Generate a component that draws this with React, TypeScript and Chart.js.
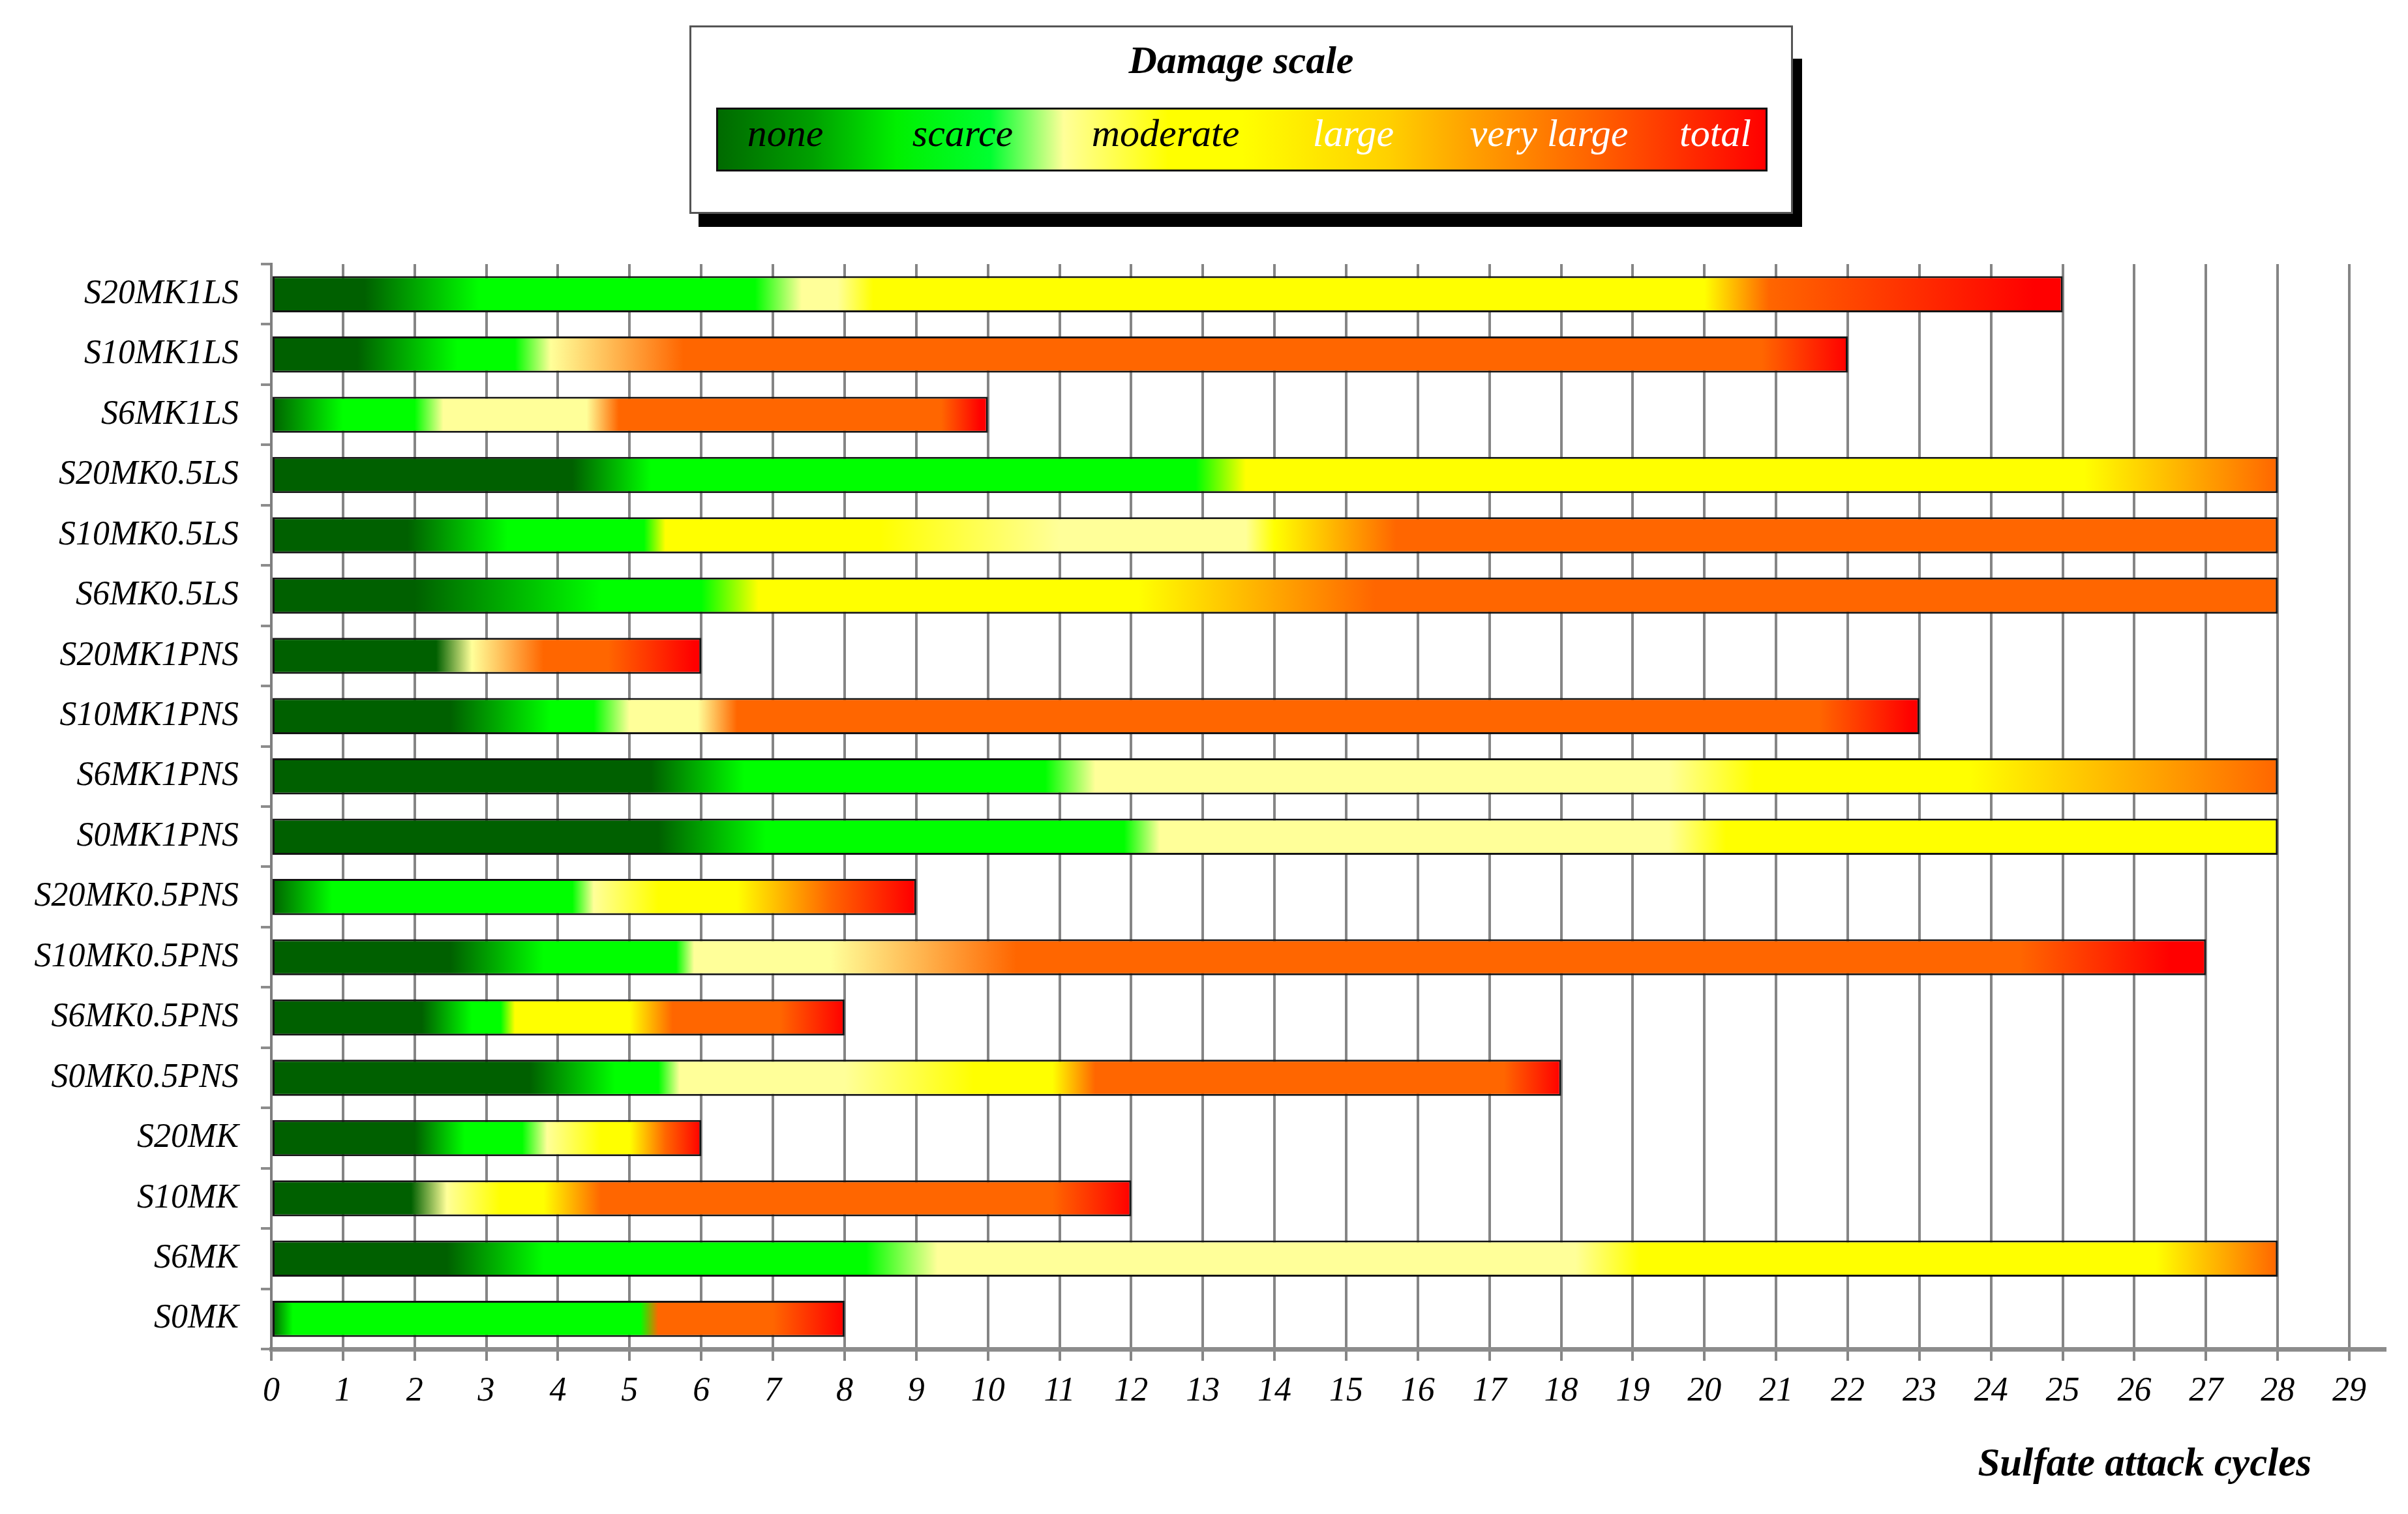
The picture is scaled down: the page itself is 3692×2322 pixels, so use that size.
import { useEffect, useRef } from 'react';
import { Chart, registerables } from 'chart.js';

Chart.register(...registerables);

const samples = [
  'S20MK1LS', 'S10MK1LS', 'S6MK1LS', 'S20MK0.5LS', 'S10MK0.5LS', 'S6MK0.5LS',
  'S20MK1PNS', 'S10MK1PNS', 'S6MK1PNS', 'S0MK1PNS', 'S20MK0.5PNS', 'S10MK0.5PNS',
  'S6MK0.5PNS', 'S0MK0.5PNS', 'S20MK', 'S10MK', 'S6MK', 'S0MK',
];

// last sulfate attack cycle reached by each sample
const endCycles = [25, 22, 10, 28, 28, 28, 6, 23, 28, 28, 9, 27, 8, 18, 6, 12, 28, 8];

const damageLevels = ['none', 'scarce', 'moderate', 'large', 'very large', 'total'];

const cycleTickLabels = [
  '0', '1', '2', '3', '4', '5', '6', '7', '8', '9', '10', '11', '12', '13', '14',
  '15', '16', '17', '18', '19', '20', '21', '22', '23', '24', '25', '26', '27', '28', '29',
];

// [cycle, damage level] points along each bar
const damageStops: [number, string][][] = [
  [[0, 'none'], [1.3, 'none'], [2.9, 'scarce'], [6.75, 'scarce'], [7.4, 'moderate'], [7.9, 'moderate'], [8.4, 'large'], [20, 'large'], [20.9, 'very large'], [24.6, 'total'], [25, 'total']],
  [[0, 'none'], [1.2, 'none'], [2.6, 'scarce'], [3.4, 'scarce'], [3.9, 'moderate'], [5.75, 'very large'], [20.8, 'very large'], [22, 'total']],
  [[0, 'none'], [1.0, 'scarce'], [2.0, 'scarce'], [2.4, 'moderate'], [4.4, 'moderate'], [4.85, 'very large'], [9.35, 'very large'], [9.9, 'total'], [10, 'total']],
  [[0, 'none'], [4.2, 'none'], [5.3, 'scarce'], [12.9, 'scarce'], [13.6, 'large'], [25.3, 'large'], [28, 'very large']],
  [[0, 'none'], [1.9, 'none'], [3.3, 'scarce'], [5.2, 'scarce'], [5.5, 'large'], [8.5, 'large'], [11, 'moderate'], [13.6, 'moderate'], [14, 'large'], [15.7, 'very large'], [28, 'very large']],
  [[0, 'none'], [2.0, 'none'], [4.6, 'scarce'], [6.0, 'scarce'], [6.8, 'large'], [12.1, 'large'], [15.4, 'very large'], [28, 'very large']],
  [[0, 'none'], [2.3, 'none'], [2.8, 'moderate'], [3.8, 'very large'], [4.7, 'very large'], [5.9, 'total'], [6, 'total']],
  [[0, 'none'], [2.5, 'none'], [3.9, 'scarce'], [4.5, 'scarce'], [5.0, 'moderate'], [5.95, 'moderate'], [6.5, 'very large'], [21.6, 'very large'], [22.9, 'total'], [23, 'total']],
  [[0, 'none'], [5.3, 'none'], [6.6, 'scarce'], [10.8, 'scarce'], [11.5, 'moderate'], [19.5, 'moderate'], [20.7, 'large'], [23.7, 'large'], [28, 'very large']],
  [[0, 'none'], [5.4, 'none'], [6.9, 'scarce'], [11.9, 'scarce'], [12.4, 'moderate'], [19.5, 'moderate'], [20.3, 'large'], [28, 'large']],
  [[0, 'none'], [0.85, 'scarce'], [4.2, 'scarce'], [4.5, 'moderate'], [5.4, 'large'], [6.5, 'large'], [7.8, 'very large'], [8.95, 'total'], [9, 'total']],
  [[0, 'none'], [2.5, 'none'], [3.8, 'scarce'], [5.65, 'scarce'], [5.9, 'moderate'], [7.8, 'moderate'], [10.4, 'very large'], [24.4, 'very large'], [26.5, 'total'], [27, 'total']],
  [[0, 'none'], [2.1, 'none'], [2.8, 'scarce'], [3.2, 'scarce'], [3.4, 'large'], [5.0, 'large'], [5.6, 'very large'], [7.1, 'very large'], [8, 'total']],
  [[0, 'none'], [3.6, 'none'], [4.8, 'scarce'], [5.4, 'scarce'], [5.7, 'moderate'], [8, 'moderate'], [9.8, 'large'], [10.9, 'large'], [11.5, 'very large'], [17.2, 'very large'], [18, 'total']],
  [[0, 'none'], [2.0, 'none'], [2.7, 'scarce'], [3.5, 'scarce'], [3.85, 'moderate'], [4.6, 'large'], [5.0, 'large'], [5.5, 'very large'], [6, 'total']],
  [[0, 'none'], [1.95, 'none'], [2.45, 'moderate'], [3.2, 'large'], [3.8, 'large'], [4.6, 'very large'], [10.9, 'very large'], [12, 'total']],
  [[0, 'none'], [2.45, 'none'], [3.8, 'scarce'], [8.3, 'scarce'], [9.3, 'moderate'], [18.2, 'moderate'], [19.1, 'large'], [26.3, 'large'], [28, 'very large']],
  [[0, 'none'], [0.3, 'scarce'], [5.15, 'scarce'], [5.4, 'very large'], [7.0, 'very large'], [8, 'total']],
];

const levelColors: Record<string, string> = {
  none: '#006000',
  scarce: '#00ff00',
  moderate: '#ffff99',
  large: '#ffff00',
  'very large': '#ff6600',
  total: '#ff0000',
};

const SERIF = '"Liberation Serif", "Times New Roman", serif';

// legend label centres (px from the left of the gradient strip) and colours
const legendLabelX = [103, 375, 686, 974, 1274, 1529];
const legendLabelColor = ['#000', '#000', '#000', '#fff', '#fff', '#fff'];

function DamageLegend() {
  return (
    <>
      <div style={{ position: 'absolute', left: 1071, top: 90, width: 1692, height: 258, background: '#000' }} />
      <div
        style={{
          position: 'absolute', left: 1057, top: 39, width: 1692, height: 289,
          boxSizing: 'border-box', background: '#fff', border: '3px solid #555',
        }}
      >
        <div
          style={{
            position: 'absolute', left: 0, right: 0, top: 20, textAlign: 'center',
            fontFamily: SERIF, fontStyle: 'italic', fontWeight: 'bold', fontSize: 60, lineHeight: '60px',
          }}
        >
          Damage scale
        </div>
        <div
          style={{
            position: 'absolute', left: 38, top: 123, width: 1612, height: 98, boxSizing: 'border-box',
            border: '3px solid #111',
            background:
              'linear-gradient(to right, #006a00 0%, #00a000 9%, #00f000 17%, #00ff30 26%, #ffff99 33%, #ffff00 43%, #ffff00 50%, #ffd000 64%, #ffa000 72%, #ff6000 84%, #ff0000 100%)',
          }}
        >
          {damageLevels.map((lvl, i) => (
            <span
              key={lvl}
              style={{
                position: 'absolute', left: legendLabelX[i], top: 6, transform: 'translateX(-50%)',
                whiteSpace: 'nowrap', color: legendLabelColor[i],
                fontFamily: SERIF, fontStyle: 'italic', fontSize: 60, lineHeight: '60px',
              }}
            >
              {lvl}
            </span>
          ))}
        </div>
      </div>
    </>
  );
}

export default function App() {
  const canvasRef = useRef<HTMLCanvasElement | null>(null);
  const chartRef = useRef<Chart | null>(null);

  useEffect(() => {
    if (!canvasRef.current) return;
    if (chartRef.current) {
      chartRef.current.destroy();
      chartRef.current = null;
    }

    chartRef.current = new Chart(canvasRef.current, {
      type: 'bar',
      data: {
        labels: samples,
        datasets: [{
          data: endCycles,
          // each bar gets its own gradient built on the x scale
          backgroundColor: (ctx: any) => {
            const chart = ctx.chart;
            const x = chart.scales?.x;
            const stops = damageStops[ctx.dataIndex];
            if (!x || !chart.chartArea || !stops) return levelColors.none;
            const end = endCycles[ctx.dataIndex];
            const g = chart.ctx.createLinearGradient(x.getPixelForValue(0), 0, x.getPixelForValue(end), 0);
            stops.forEach(([c, lvl]) => g.addColorStop(Math.min(c / end, 1), levelColors[lvl]));
            return g;
          },
          borderColor: '#141414',
          borderWidth: 3,
          borderSkipped: false,
          barPercentage: 0.6,
          categoryPercentage: 1,
        }],
      },
      options: {
        indexAxis: 'y',
        responsive: false,
        devicePixelRatio: 1,
        animation: false,
        layout: { padding: { top: 405, right: 35, left: 0, bottom: 0 } },
        plugins: {
          legend: { display: false },
          tooltip: { enabled: false },
        },
        scales: {
          x: {
            type: 'linear',
            min: 0,
            max: 29.5,
            ticks: {
              stepSize: 1,
              includeBounds: false,
              autoSkip: false,
              maxRotation: 0,
              color: '#000',
              padding: 16,
              font: { family: SERIF, size: 52, style: 'italic' },
              callback: (v: any) => cycleTickLabels[v] ?? '',
            },
            grid: { color: '#858585', lineWidth: 4, tickLength: 18 },
            border: { display: true, color: '#8c8c8c', width: 7 },
            afterFit: (s: any) => { s.height = 253; },
          },
          y: {
            type: 'category',
            ticks: {
              autoSkip: false,
              color: '#000',
              padding: 34,
              font: { family: SERIF, size: 52, style: 'italic' },
            },
            grid: { drawOnChartArea: false, drawTicks: true, tickLength: 16, color: '#8c8c8c', lineWidth: 4, offset: true },
            border: { display: true, color: '#7f7f7f', width: 4 },
            afterFit: (s: any) => { s.width = 416; },
          },
        },
      },
    });

    return () => {
      if (chartRef.current) {
        chartRef.current.destroy();
        chartRef.current = null;
      }
    };
  }, []);

  return (
    <div style={{ position: 'absolute', left: 0, top: 0, width: 3692, height: 2322, background: '#fff' }}>
      <canvas ref={canvasRef} width={3692} height={2322} style={{ display: 'block', width: 3692, height: 2322 }} />
      <DamageLegend />
      <div
        style={{
          position: 'absolute', right: 148, top: 2212, whiteSpace: 'nowrap',
          fontFamily: SERIF, fontStyle: 'italic', fontWeight: 'bold', fontSize: 61, lineHeight: '61px',
        }}
      >
        Sulfate attack cycles
      </div>
    </div>
  );
}
